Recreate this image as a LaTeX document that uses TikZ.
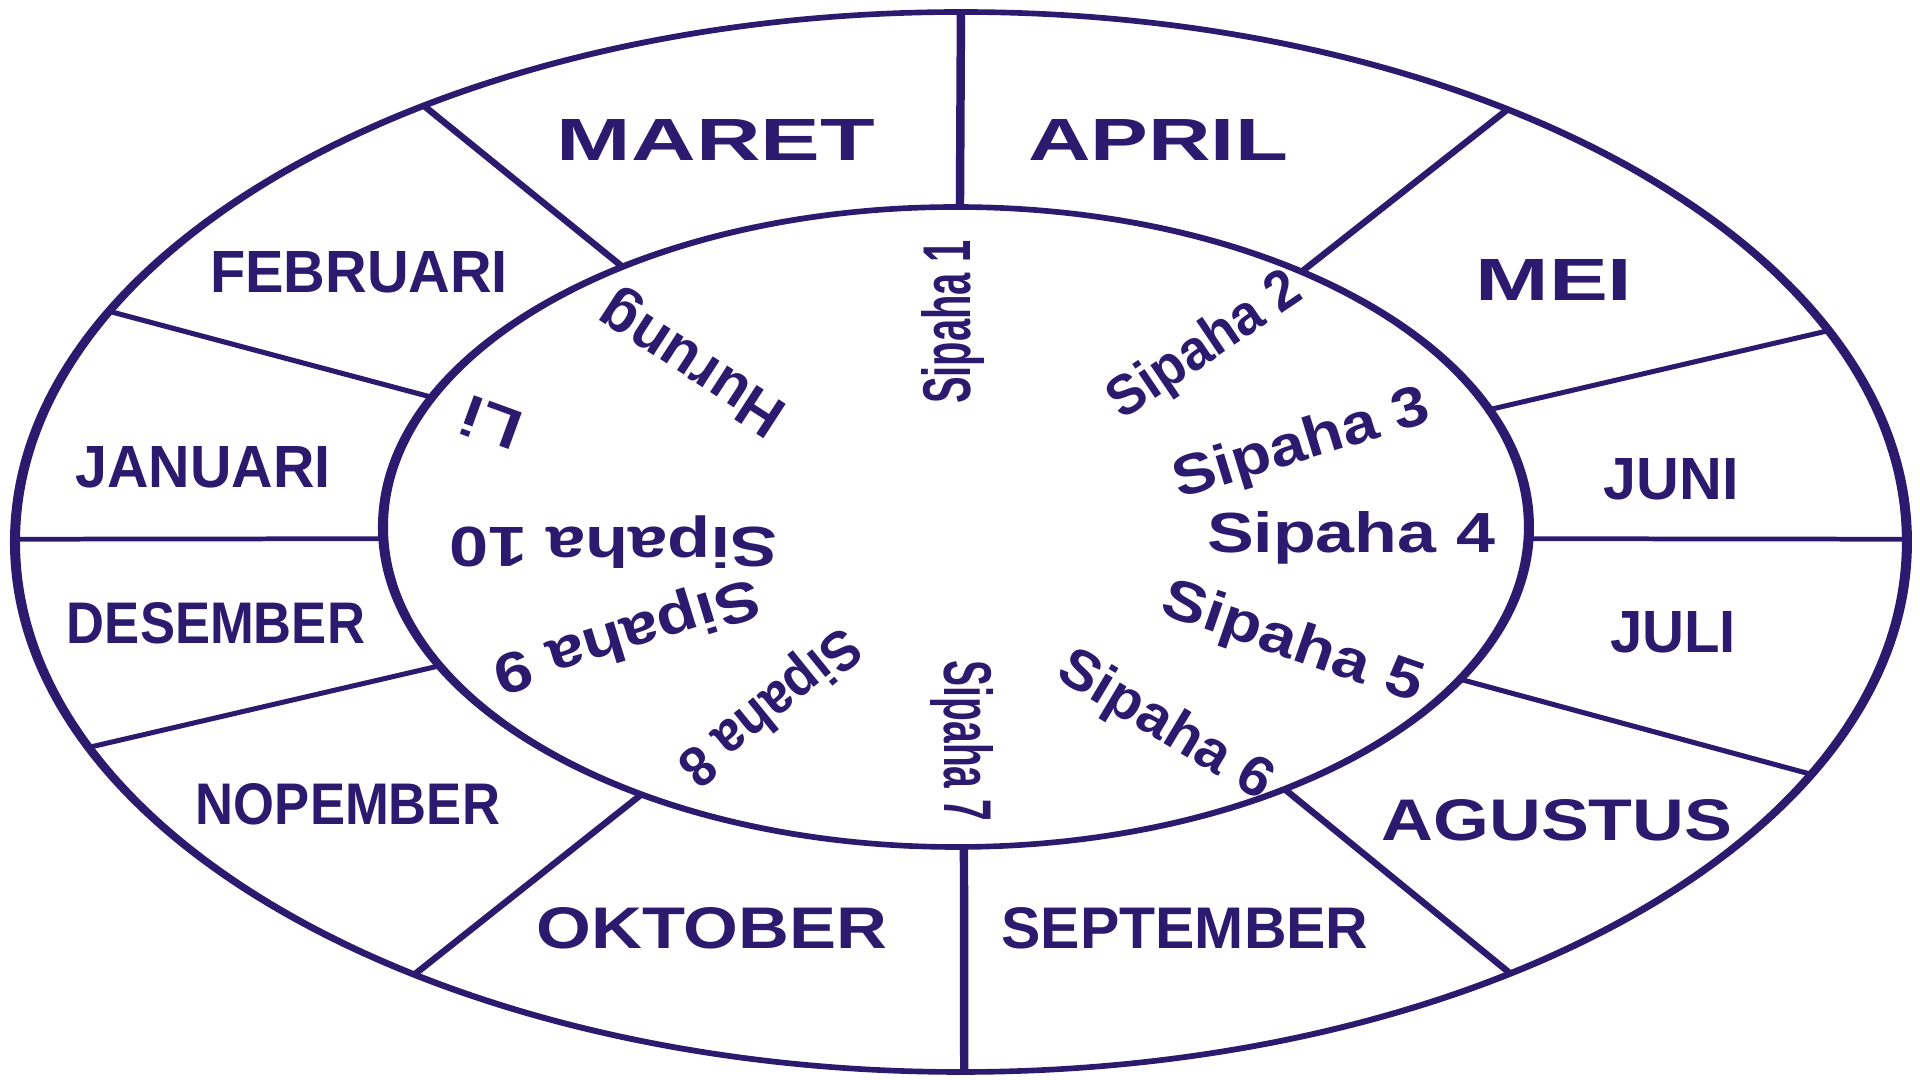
\documentclass[tikz,border=0pt]{standalone}
\usepackage{fontspec}
\setmainfont{Liberation Sans}
\usepackage{graphicx}
\usepackage{xcolor}
\usetikzlibrary{calc}
\definecolor{KalNavy}{HTML}{2B1A6E}
\newcommand{\monthtext}[2]{\resizebox{#1}{0.41cm}{\bfseries #2}}
\newcommand{\sipahatext}[3][0.41cm]{\resizebox{#2}{#1}{\bfseries #3}}

\begin{document}
\begin{tikzpicture}[x=1cm,y=1cm,
  ring/.style={draw=KalNavy,line width=1.6pt},
  cut/.style={draw=KalNavy,line width=1.35pt},
  month/.style={text=KalNavy,inner sep=0pt,anchor=center},
  sipaha/.style={text=KalNavy,inner sep=0pt,anchor=center}]
\path[use as bounding box] (0,0) rectangle (19.20,10.80);
% rings and dividers, stretched sideways like the source drawing
\begin{scope}[transform canvas={xscale=1.785},xscale=0.5602]
\draw[ring] (9.61,5.38) ellipse [x radius=9.46,y radius=5.30];
\draw[ring] (9.56,5.53) ellipse [x radius=5.73,y radius=3.20];
\foreach \o/\i in {90/89.6,124.6/125.6,154.2/156.1,179.7/182.1,202.8/205.7,234.7/236.7,
  270.2/270.8,305.5/305.0,334.0/331.6,0.3/-2.1,23.5/21.5,54.7/52.9}
  \draw[cut] ($(9.61,5.38)+(\o:9.46 and 5.30)$) -- ($(9.56,5.53)+(\i:5.73 and 3.20)$);
\end{scope}
% months
\node[month] (maret) at (7.16,9.40) {\monthtext{3.18cm}{MARET}};
\node[month] (april) at (11.58,9.40) {\monthtext{2.60cm}{APRIL}};
\node[month] (februari) at (3.59,8.08) {\monthtext{2.98cm}{FEBRUARI}};
\node[month] (mei) at (15.54,8.00) {\monthtext{1.57cm}{MEI}};
\node[month] (januari) at (2.03,6.13) {\monthtext{2.55cm}{JANUARI}};
\node[month] (juni) at (16.71,6.01) {\monthtext{1.35cm}{JUNI}};
\node[month] (desember) at (2.16,4.57) {\monthtext{2.98cm}{DESEMBER}};
\node[month] (juli) at (16.73,4.48) {\monthtext{1.26cm}{JULI}};
\node[month] (nopember) at (3.48,2.76) {\monthtext{3.04cm}{NOPEMBER}};
\node[month] (agustus) at (15.57,2.60) {\monthtext{3.51cm}{AGUSTUS}};
\node[month] (oktober) at (7.12,1.52) {\monthtext{3.51cm}{OKTOBER}};
\node[month] (september) at (11.85,1.52) {\monthtext{3.67cm}{SEPTEMBER}};
% batak months
\node[sipaha,rotate=90] (sipaha1) at (9.53,7.58) {\sipahatext[0.49cm]{1.64cm}{Sipaha 1}};
\node[sipaha,rotate=34] (sipaha2) at (12.06,7.33) {\sipahatext{2.20cm}{Sipaha 2}};
\node[sipaha,rotate=17] (sipaha3) at (13.02,6.34) {\sipahatext{2.65cm}{Sipaha 3}};
\node[sipaha] (sipaha4) at (13.51,5.42) {\sipahatext{2.88cm}{Sipaha 4}};
\node[sipaha,rotate=-19] (sipaha5) at (12.92,4.36) {\sipahatext{2.72cm}{Sipaha 5}};
\node[sipaha,rotate=-31] (sipaha6) at (11.65,3.53) {\sipahatext{2.40cm}{Sipaha 6}};
\node[sipaha,rotate=-90] (sipaha7) at (9.62,3.39) {\sipahatext[0.49cm]{1.60cm}{Sipaha 7}};
\node[sipaha,rotate=219] (sipaha8) at (7.68,3.75) {\sipahatext{2.15cm}{Sipaha 8}};
\node[sipaha,rotate=197] (sipaha9) at (6.26,4.47) {\sipahatext{2.75cm}{Sipaha 9}};
\node[sipaha,rotate=180] (sipaha10) at (6.13,5.38) {\sipahatext{3.28cm}{Sipaha 10}};
\node[sipaha,rotate=160] (li) at (4.91,6.56) {\sipahatext{0.60cm}{Li}};
\node[sipaha,rotate=147] (hurung) at (6.94,7.19) {\sipahatext{2.10cm}{Hurung}};
\end{tikzpicture}
\end{document}
